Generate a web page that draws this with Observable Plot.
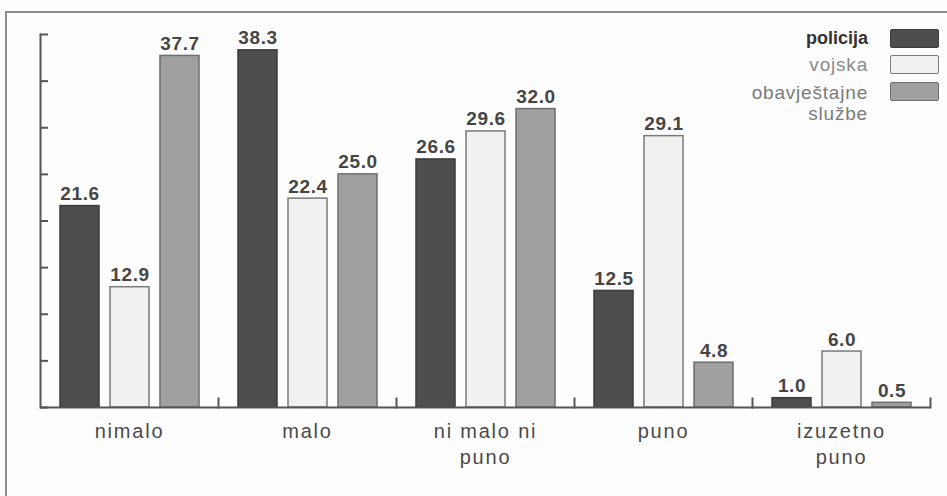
<!DOCTYPE html>
<html>
<head>
<meta charset="utf-8">
<script src="https://cdn.jsdelivr.net/npm/d3@7"></script>
<script src="https://cdn.jsdelivr.net/npm/@observablehq/plot@0.6"></script>
<style>
  html, body { margin: 0; padding: 0; background: #fdfdfd; overflow: hidden; }
  #wrap { position: relative; width: 947px; height: 496px; font-family: "Liberation Sans", Arial, sans-serif; }
  #border { position: absolute; left: 5px; top: 11px; width: 960px; height: 500px; border-left: 2px solid #8c8c8c; border-top: 2px solid #8c8c8c; }
  #chart { position: absolute; left: 0; top: 0; }
  #chart g[aria-label="fx-axis tick label"] text { letter-spacing: 1.8px; }
  #chart g[aria-label="text"] text { letter-spacing: 0.6px; }
  .leg { position: absolute; right: 8px; display: flex; align-items: center; gap: 22px; }
  .leg .t { text-align: right; font-size: 19px; line-height: 21px; letter-spacing: 0.8px; }
  .leg .sw { width: 49px; height: 19px; box-sizing: border-box; border-radius: 2px; }
</style>
</head>
<body>
<div id="wrap">
  <div id="border"></div>
  <div id="chart"></div>
  <div id="legend"></div>
</div>
<script>
const categories = ["nimalo", "malo", "ni malo ni puno", "puno", "izuzetno puno"];
const categoryLabels = ["nimalo", "malo", "ni malo ni\npuno", "puno", "izuzetno\npuno"];
const series = ["policija", "vojska", "obavještajne službe"];
const policija = [21.6, 38.3, 26.6, 12.5, 1.0];
const vojska = [12.9, 22.4, 29.6, 29.1, 6.0];
const obavjestajne = [37.7, 25.0, 32.0, 4.8, 0.5];
const yTicks = [0, 5, 10, 15, 20, 25, 30, 35, 40];

const fills = ["#4e4e4e", "#f1f1f1", "#a0a0a0"];
const strokes = ["#3c3c3c", "#7a7a7a", "#6e6e6e"];
const legendText = ["#333", "#8a8a8a", "#7a7a7a"];

const valuesBySeries = [policija, vojska, obavjestajne];
const data = [];
series.forEach((s, j) => categories.forEach((c, i) => data.push({category: c, series: s, value: valuesBySeries[j][i]})));
const labelOf = Object.fromEntries(categories.map((c, i) => [c, categoryLabels[i]]));

const chart = Plot.plot({
  width: 947,
  height: 496,
  marginLeft: 38,
  marginRight: 15,
  marginTop: 34,
  marginBottom: 89,
  style: {background: "transparent", fontFamily: "'Liberation Sans', Arial, sans-serif", overflow: "visible"},
  fx: {domain: categories, padding: 0, label: null},
  x: {domain: series, paddingInner: 0.22, paddingOuter: 0.38, axis: null},
  y: {domain: [0, 40], axis: null},
  marks: [
    ...series.map((s, j) => Plot.barY(data.filter(d => d.series === s), {
      fx: "category", x: "series", y: "value",
      fill: fills[j], stroke: strokes[j], strokeWidth: 1.5
    })),
    Plot.text(data, {
      fx: "category", x: "series", y: "value",
      text: d => d.value.toFixed(1),
      lineAnchor: "bottom", dy: -6,
      fontWeight: "bold", fontSize: 19, fill: "#454545"
    }),
    Plot.ruleY([0], {stroke: "#555", strokeWidth: 2}),
    Plot.frame({anchor: "right", insetTop: 364, stroke: "#555", strokeWidth: 2}),
    Plot.frame({anchor: "left", facetAnchor: "left", stroke: "#555", strokeWidth: 2}),
    Plot.axisY({ticks: yTicks, tickSize: -8, tickFormat: () => "", label: null, facetAnchor: "left", stroke: "#555", strokeWidth: 2}),
    Plot.axisFx({anchor: "bottom", tickSize: 0, tickPadding: 12, tickFormat: d => labelOf[d], label: null, fontSize: 20, fill: "#4a4a4a", lineHeight: 1.3})
  ]
});
document.getElementById("chart").appendChild(chart);

const legend = document.getElementById("legend");
const tops = [28, 54, 82];
series.forEach((s, j) => {
  const row = document.createElement("div");
  row.className = "leg";
  row.style.top = tops[j] + "px";
  if (j === 2) row.style.alignItems = "flex-start";
  const t = document.createElement("div");
  t.className = "t";
  t.style.color = legendText[j];
  if (j === 0) { t.style.fontWeight = "bold"; t.style.fontSize = "18px"; t.style.letterSpacing = "0px"; }
  t.innerHTML = j === 2 ? "obavještajne<br>službe" : s;
  const sw = document.createElement("div");
  sw.className = "sw";
  sw.style.background = fills[j];
  sw.style.border = "1.5px solid " + strokes[j];
  row.appendChild(t);
  row.appendChild(sw);
  legend.appendChild(row);
});
</script>
</body>
</html>
